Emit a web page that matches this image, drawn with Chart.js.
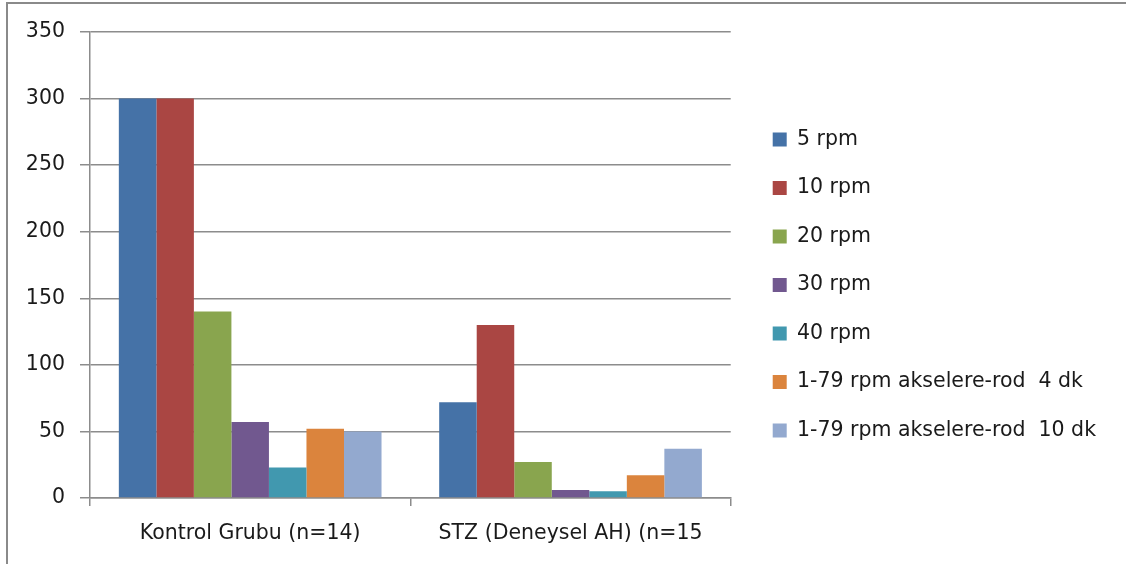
<!DOCTYPE html>
<html>
<head>
<meta charset="utf-8">
<script src="https://cdn.jsdelivr.net/npm/chart.js@4/dist/chart.umd.min.js"></script>
<style>
  html, body { margin: 0; padding: 0; background: #fff; }
  #frame {
    position: absolute; left: 6px; top: 2px; width: 1120px; height: 562px;
    border-left: 2px solid #8a8a8a; border-top: 2px solid #8a8a8a;
  }
  #wrap { position: absolute; left: 0; top: 0; width: 1126px; height: 564px; }
</style>
</head>
<body>
<div id="frame"></div>
<div id="wrap"><canvas id="rotarodChart" width="1126" height="564"></canvas></div>
<script>
// Groups and series
const groups = ['Kontrol Grubu (n=14)', 'STZ (Deneysel AH) (n=15'];
const seriesNames = ['5 rpm', '10 rpm', '20 rpm', '30 rpm', '40 rpm',
  '1-79 rpm akselere-rod  4 dk', '1-79 rpm akselere-rod  10 dk'];
const rpm5 = [300, 72];
const rpm10 = [300, 130];
const rpm20 = [140, 27];
const rpm30 = [57, 6];
const rpm40 = [23, 5];
const accel4 = [52, 17];
const accel10 = [50, 37];
const yTicks = [0, 50, 100, 150, 200, 250, 300, 350];

const seriesValues = [rpm5, rpm10, rpm20, rpm30, rpm40, accel4, accel10];
const seriesColors = ['#4572a7', '#aa4643', '#89a54e', '#71588f', '#4198af', '#db843d', '#93a9cf'];

const FONT = { family: "'DejaVu Sans', sans-serif", size: 20.5 };
const GRID = '#8c8c8c';

// nudge the legend right of the plot and a little up
const legendGap = {
  id: 'legendGap',
  afterLayout(chart) {
    const lg = chart.legend;
    lg.left += 14; lg.right += 14;
    lg.top -= 13; lg.bottom -= 13;
  }
};

const ctx = document.getElementById('rotarodChart').getContext('2d');
const rotarodChart = new Chart(ctx, {
  type: 'bar',
  data: {
    labels: groups,
    datasets: seriesNames.map((name, i) => ({
      label: name,
      data: seriesValues[i],
      backgroundColor: seriesColors[i],
      borderWidth: 0,
      categoryPercentage: 0.82,
      barPercentage: 1
    }))
  },
  plugins: [legendGap],
  options: {
    responsive: false,
    devicePixelRatio: 1,
    animation: false,
    layout: { padding: { top: 32, right: 34, left: 0, bottom: 0 } },
    scales: {
      y: {
        min: 0,
        max: 350,
        afterBuildTicks: scale => { scale.ticks = yTicks.map(v => ({ value: v })); },
        afterFit: scale => { scale.width = 90; },
        ticks: { color: '#1a1a1a', font: FONT, padding: 15 },
        grid: { color: GRID, lineWidth: 1.5, tickLength: 10 },
        border: { color: GRID, width: 1.5 }
      },
      x: {
        afterFit: scale => { scale.height = 66; },
        ticks: { color: '#1a1a1a', font: FONT, padding: 15, maxRotation: 0 },
        grid: { offset: true, drawOnChartArea: false, color: GRID, lineWidth: 1.5, tickLength: 8 },
        border: { color: GRID, width: 1.5 }
      }
    },
    plugins: {
      legend: {
        position: 'right',
        maxWidth: 420,
        labels: {
          boxWidth: 14,
          boxHeight: 14,
          padding: 28,
          color: '#1a1a1a',
          font: FONT
        }
      },
      tooltip: { enabled: false }
    }
  }
});
</script>
</body>
</html>
